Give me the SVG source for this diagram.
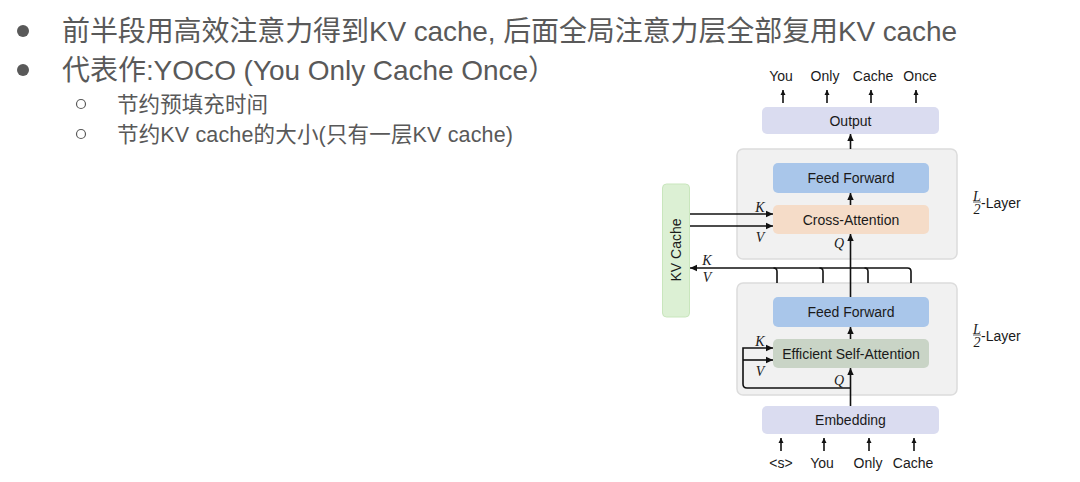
<svg xmlns="http://www.w3.org/2000/svg" width="1080" height="482" viewBox="0 0 1080 482">
<defs>
<style>
.bt{font-family:"Liberation Sans","Noto Sans CJK SC",sans-serif;fill:#595959}
.lb{font-family:"Liberation Sans",Arial,sans-serif;font-size:14px;fill:#1a1a1a;text-anchor:middle;dominant-baseline:central}
.it{font-family:"Liberation Serif","DejaVu Serif",serif;font-style:italic;font-size:14px;fill:#1a1a1a;text-anchor:middle;dominant-baseline:central}
.ln{fill:none;stroke:#111;stroke-width:1.6}
.box{stroke:none}
.cont{fill:#f1f1f1;stroke:#dcdcdc;stroke-width:1.5}
</style>
<marker id="ah" markerUnits="userSpaceOnUse" markerWidth="8" markerHeight="8" refX="7" refY="4" orient="auto"><path d="M0,0.8 L7,4 L0,7.2 z" fill="#111"/></marker>
<marker id="sm" markerUnits="userSpaceOnUse" markerWidth="6" markerHeight="6" refX="5" refY="3" orient="auto"><path d="M0,0.5 L5,3 L0,5.5 z" fill="#111"/></marker>
</defs>
<rect width="1080" height="482" fill="#fff"/>

<g id="bullets">
<circle cx="23" cy="31" r="6" fill="#595959"/>
<text class="bt" x="62" y="40.5" font-size="28" textLength="895" lengthAdjust="spacing">前半段用高效注意力得到KV cache, 后面全局注意力层全部复用KV cache</text>
<circle cx="23" cy="70" r="6" fill="#595959"/>
<text class="bt" x="62" y="79.5" font-size="28" textLength="494" lengthAdjust="spacing">代表作:YOCO (You Only Cache Once）</text>
<circle cx="81" cy="104" r="4.5" fill="none" stroke="#595959" stroke-width="1.2"/>
<text class="bt" x="117" y="111.5" font-size="21.5" textLength="151" lengthAdjust="spacing">节约预填充时间</text>
<circle cx="81" cy="134" r="4.5" fill="none" stroke="#595959" stroke-width="1.2"/>
<text class="bt" x="117" y="141.5" font-size="21.5" textLength="396" lengthAdjust="spacing">节约KV cache的大小(只有一层KV cache)</text>
</g>

<g id="upper-layer"><rect class="cont" x="737" y="149" width="220" height="110" rx="6"/></g>
<g id="lower-layer"><rect class="cont" x="737" y="283" width="220" height="112" rx="6"/></g>

<g id="output"><rect class="box" x="762" y="107" width="177" height="27" rx="5" fill="#dadcf0"/><text class="lb" x="850.5" y="121">Output</text></g>
<g id="ff-upper"><rect class="box" x="773" y="163" width="156" height="30" rx="5" fill="#a9c6ea"/><text class="lb" x="851" y="178">Feed Forward</text></g>
<g id="cross-attention"><rect class="box" x="773" y="205" width="156" height="29" rx="5" fill="#f5dcc8"/><text class="lb" x="851" y="220">Cross-Attention</text></g>
<g id="ff-lower"><rect class="box" x="773" y="297" width="156" height="30" rx="5" fill="#a9c6ea"/><text class="lb" x="851" y="312">Feed Forward</text></g>
<g id="self-attention"><rect class="box" x="773" y="339" width="156" height="29" rx="5" fill="#c9d4c6"/><text class="lb" x="851" y="354">Efficient Self-Attention</text></g>
<g id="embedding"><rect class="box" x="762" y="406" width="177" height="28" rx="5" fill="#dadcf0"/><text class="lb" x="850.5" y="420">Embedding</text></g>
<g id="kv-cache"><rect x="662.5" y="184" width="27" height="133" rx="4" fill="#dcf0d4" stroke="#c9e6bd" stroke-width="1"/><text class="lb" x="676" y="250" transform="rotate(-90 676 250)">KV Cache</text></g>

<g id="labels">
<text class="lb" x="781" y="76">You</text>
<text class="lb" x="825" y="76">Only</text>
<text class="lb" x="873" y="76">Cache</text>
<text class="lb" x="920" y="76">Once</text>
<text class="lb" x="781" y="463">&lt;s&gt;</text>
<text class="lb" x="822" y="463">You</text>
<text class="lb" x="868" y="463">Only</text>
<text class="lb" x="913" y="463">Cache</text>
<text class="it" x="760" y="207">K</text>
<text class="it" x="760" y="237">V</text>
<text class="it" x="839" y="243">Q</text>
<text class="it" x="707" y="260">K</text>
<text class="it" x="707" y="277">V</text>
<text class="it" x="760" y="341">K</text>
<text class="it" x="760" y="371">V</text>
<text class="it" x="839" y="380">Q</text>
<g id="layer-label-upper">
<text class="it" x="977" y="196" font-size="9">L</text>
<line x1="973" y1="202" x2="981" y2="202" stroke="#1a1a1a" stroke-width="0.7"/>
<text class="it" x="977" y="209" font-size="9" font-style="normal">2</text>
<text class="lb" x="981" y="203" style="text-anchor:start" font-size="13">-Layer</text>
</g>
<g id="layer-label-lower">
<text class="it" x="977" y="329" font-size="9">L</text>
<line x1="973" y1="335" x2="981" y2="335" stroke="#1a1a1a" stroke-width="0.7"/>
<text class="it" x="977" y="342" font-size="9" font-style="normal">2</text>
<text class="lb" x="981" y="336" style="text-anchor:start" font-size="13">-Layer</text>
</g>
</g>

<g id="connectors">
<line class="ln" x1="783" y1="103" x2="783" y2="90" marker-end="url(#sm)"/>
<line class="ln" x1="827" y1="103" x2="827" y2="90" marker-end="url(#sm)"/>
<line class="ln" x1="871" y1="103" x2="871" y2="90" marker-end="url(#sm)"/>
<line class="ln" x1="916" y1="103" x2="916" y2="90" marker-end="url(#sm)"/>
<line class="ln" x1="850.5" y1="149" x2="850.5" y2="134" marker-end="url(#ah)"/>
<line class="ln" x1="850.5" y1="205" x2="850.5" y2="193" marker-end="url(#ah)"/>
<line class="ln" x1="690" y1="214" x2="773" y2="214" marker-end="url(#ah)"/>
<line class="ln" x1="690" y1="226" x2="773" y2="226" marker-end="url(#ah)"/>
<line class="ln" x1="850.5" y1="297" x2="850.5" y2="234" marker-end="url(#ah)"/>
<path class="ln" d="M911,283 V271.5 Q911,268 907.5,268 H690" marker-end="url(#ah)"/>
<path class="ln" d="M868,283 V271.5 Q868,268 864.5,268"/>
<path class="ln" d="M823,283 V271.5 Q823,268 819.5,268"/>
<path class="ln" d="M777,283 V271.5 Q777,268 773.5,268"/>
<line class="ln" x1="850.5" y1="339" x2="850.5" y2="327" marker-end="url(#ah)"/>
<path class="ln" d="M850.5,388 H747 Q743,388 743,384 V348 H773" marker-end="url(#ah)"/>
<line class="ln" x1="743" y1="360" x2="773" y2="360" marker-end="url(#ah)"/>
<line class="ln" x1="850.5" y1="406" x2="850.5" y2="368" marker-end="url(#ah)"/>
<line class="ln" x1="781" y1="451" x2="781" y2="438" marker-end="url(#sm)"/>
<line class="ln" x1="824" y1="451" x2="824" y2="438" marker-end="url(#sm)"/>
<line class="ln" x1="869" y1="451" x2="869" y2="438" marker-end="url(#sm)"/>
<line class="ln" x1="914" y1="451" x2="914" y2="438" marker-end="url(#sm)"/>
</g>
</svg>
